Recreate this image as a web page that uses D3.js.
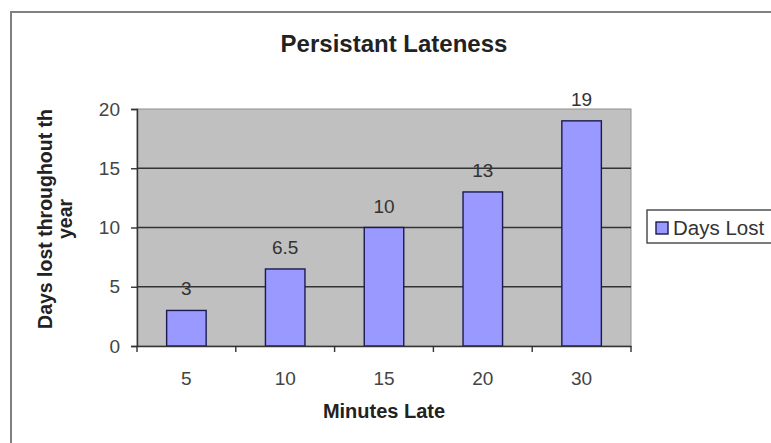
<!DOCTYPE html>
<html><head><meta charset="utf-8">
<script src="https://cdn.jsdelivr.net/npm/d3@7"></script>
<style>body{margin:0;background:#fff}svg{display:block;font-family:"Liberation Sans",Arial,sans-serif}</style>
</head><body>
<svg id="c" width="771" height="443"></svg>
<script>
const categories = ["5","10","15","20","30"];
const values = [3, 6.5, 10, 13, 19];
const valueLabels = ["3","6.5","10","13","19"];
const yTicks = [0,5,10,15,20];
const seriesName = "Days Lost";

const svg = d3.select("#c");
const W=771,H=443;
const FONT="Liberation Sans, Arial, sans-serif";
svg.append("rect").attr("x",11).attr("y",12).attr("width",W+10).attr("height",H+10)
  .attr("fill","#fff").attr("stroke","#808080").attr("stroke-width",2);

const m={l:137,r:631,t:109,b:346};
const x=d3.scaleBand().domain(categories).range([m.l,m.r]).paddingInner(0.6).paddingOuter(0.3);
const xb=d3.scaleBand().domain(categories).range([m.l,m.r]);
const y=d3.scaleLinear().domain([0,20]).range([m.b,m.t]);

svg.append("rect").attr("x",m.l).attr("y",m.t).attr("width",m.r-m.l).attr("height",m.b-m.t)
  .attr("fill","#C0C0C0").attr("stroke","#909090").attr("stroke-width",1);

svg.append("g").selectAll("line").data(yTicks.filter(d=>d>0&&d<20)).join("line")
  .attr("x1",m.l).attr("x2",m.r).attr("y1",d=>y(d)).attr("y2",d=>y(d))
  .attr("stroke","#333").attr("stroke-width",1.4);

svg.append("g").selectAll("rect").data(values).join("rect")
  .attr("x",(d,i)=>x(categories[i])).attr("width",x.bandwidth())
  .attr("y",d=>y(d)).attr("height",d=>y(0)-y(d))
  .attr("fill","#9999FF").attr("stroke","#1a1a50").attr("stroke-width",1.4);

svg.append("g").selectAll("text").data(values).join("text")
  .attr("x",(d,i)=>x(categories[i])+x.bandwidth()/2).attr("y",d=>y(d)-15)
  .attr("text-anchor","middle").attr("font-size",19).attr("fill","#333")
  .text((d,i)=>valueLabels[i]);

// y axis
const ya=svg.append("g").attr("transform",`translate(${m.l},0)`)
  .call(d3.axisLeft(y).tickValues(yTicks).tickSize(6).tickPadding(11));
ya.select(".domain").attr("stroke","#333").attr("stroke-width",1.4);
ya.selectAll(".tick line").attr("stroke","#333").attr("stroke-width",1.4);
ya.selectAll("text").attr("font-size",19).attr("fill","#444").attr("font-family",FONT);

// x axis
const xa=svg.append("g").attr("transform",`translate(0,${m.b})`)
  .call(d3.axisBottom(xb).tickSize(0).tickPadding(26));
xa.select(".domain").attr("stroke","#333").attr("stroke-width",1.4);
xa.selectAll("text").attr("font-size",19).attr("fill","#444").attr("font-family",FONT);
svg.append("g").selectAll("line").data(categories.concat(["end"])).join("line")
  .attr("x1",(d,i)=>m.l+i*xb.step()).attr("x2",(d,i)=>m.l+i*xb.step())
  .attr("y1",m.b).attr("y2",m.b+6).attr("stroke","#333").attr("stroke-width",1.4);

svg.append("text").attr("x",394).attr("y",52).attr("text-anchor","middle")
  .attr("font-size",24).attr("font-weight","bold").attr("fill","#222").text("Persistant Lateness");
svg.append("text").attr("x",384).attr("y",418).attr("text-anchor","middle")
  .attr("font-size",20).attr("font-weight","bold").attr("fill","#222").text("Minutes Late");
const yt=svg.append("text").attr("transform","translate(52,219) rotate(-90)")
  .attr("text-anchor","middle").attr("font-size",19.5).attr("font-weight","bold").attr("fill","#222");
yt.append("tspan").attr("x",0).attr("dy",0).text("Days lost throughout th");
yt.append("tspan").attr("x",0).attr("dy",20).text("year");

// legend
const lg=svg.append("g");
lg.append("rect").attr("x",647).attr("y",210).attr("width",140).attr("height",33)
  .attr("fill","#fff").attr("stroke","#444").attr("stroke-width",1.4);
lg.append("rect").attr("x",656).attr("y",222).attr("width",12).attr("height",12)
  .attr("fill","#9999FF").attr("stroke","#1a1a50").attr("stroke-width",1.4);
lg.append("text").attr("x",673).attr("y",235).attr("font-size",20.5).attr("fill","#333").text(seriesName);
</script>
</body></html>
